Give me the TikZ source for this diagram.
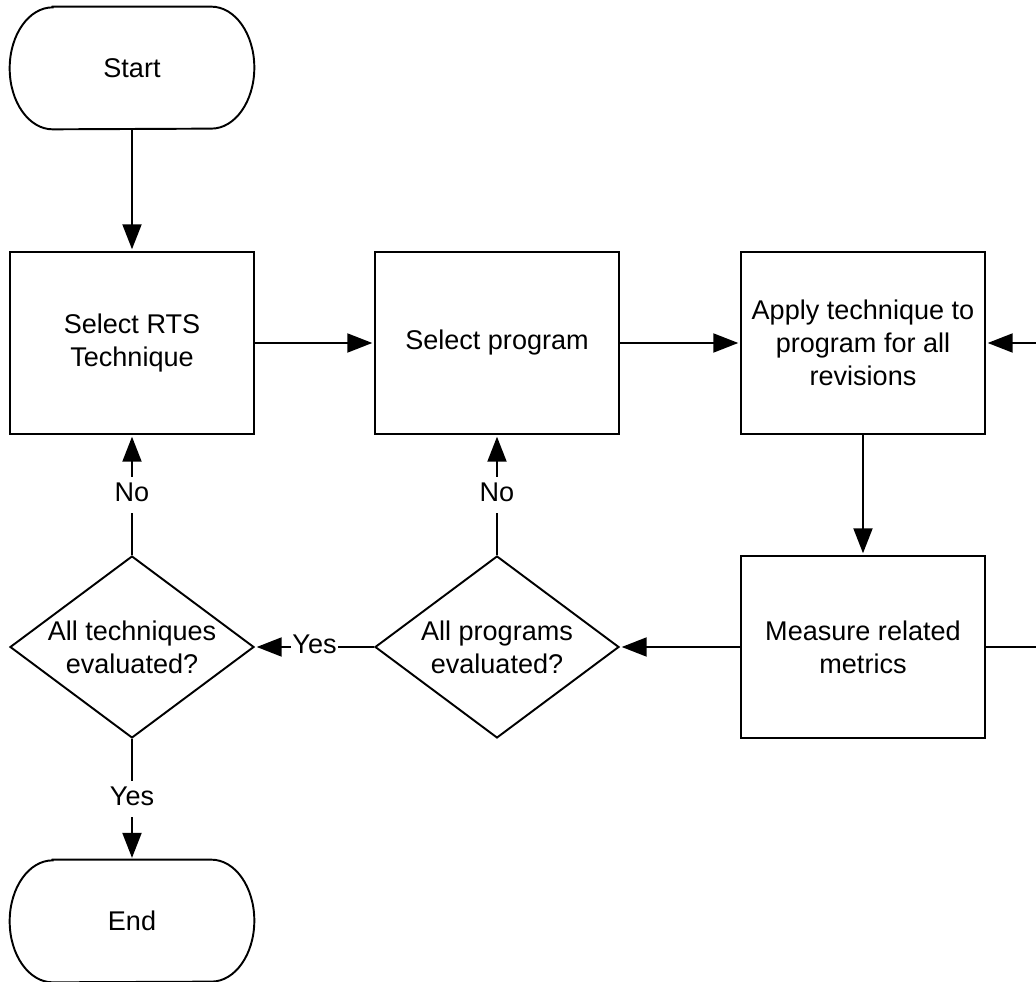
\documentclass[tikz,border=0pt]{standalone}
\usepackage{fontspec}
\setmainfont{Liberation Sans}
\usepackage{tikz}
\usetikzlibrary{shapes.geometric, arrows.meta, positioning, calc}

\begin{document}
\begin{tikzpicture}[
    x=0.02cm, y=-0.02cm,
    font=\fontsize{15.4pt}{18.7pt}\selectfont,
    box/.style={draw, rectangle, line width=1.1pt, minimum width=4.88cm, minimum height=3.64cm, align=center, inner sep=0pt},
    terminal/.style={rectangle, minimum width=4.88cm, minimum height=2.44cm, align=center},
    decision/.style={draw, diamond, aspect=1.34, line width=1.1pt, minimum width=4.88cm, minimum height=3.64cm, align=center, inner sep=0pt},
    arrow/.style={-{Triangle[length=0.5cm, width=0.38cm]}, line width=1.1pt, shorten >=1pt},
    answer/.style={fill=white, inner xsep=1pt, inner ysep=1pt, execute at begin node=\strut},
]
\useasboundingbox (0,0) rectangle (1036,982);
\clip (0,0) rectangle (1036,982);

% Start and end
\node[terminal] (start) at (132, 68) {Start};
\node[terminal] (finish) at (132, 921) {End};
\foreach \n in {start, finish}
    \draw[line width=1.1pt] ([xshift=0.86cm]\n.north west) -- ([xshift=-0.86cm]\n.north east)
        arc[start angle=90, end angle=-90, x radius=0.86cm, y radius=1.22cm]
        -- ([xshift=0.86cm]\n.south west)
        arc[start angle=270, end angle=90, x radius=0.86cm, y radius=1.22cm] -- cycle;

% Steps
\node[box] (technique) at (132, 343) {Select RTS\\Technique};
\node[box] (program) at (497, 343) {Select program};
\node[box] (apply) at (863, 343) {Apply technique to\\program for all\\revisions};
\node[box] (measure) at (863, 647) {Measure related\\metrics};

% Decisions
\node[decision] (allprograms) at (497, 647) {All programs\\evaluated?};
\node[decision] (alltechniques) at (132, 647) {All techniques\\evaluated?};

% Loop back (leaves the picture on the right)
\coordinate (loop) at (1060, 495);

% Arrows
\draw[arrow] (start) -- (technique);
\draw[arrow] (technique) -- (program);
\draw[arrow] (program) -- (apply);
\draw[arrow] (apply) -- (measure);
\draw[arrow] (measure.east) -- (measure.east -| loop) |- (apply.east);
\draw[arrow] (measure) -- (allprograms);
\draw[arrow] (allprograms) -- node[answer] {Yes} (alltechniques);
\draw[arrow] (allprograms) -- node[answer] {No} (program);
\draw[arrow] (alltechniques) -- node[answer] {No} (technique);
\draw[arrow] (alltechniques) -- node[answer] {Yes} (finish);

\end{tikzpicture}
\end{document}
